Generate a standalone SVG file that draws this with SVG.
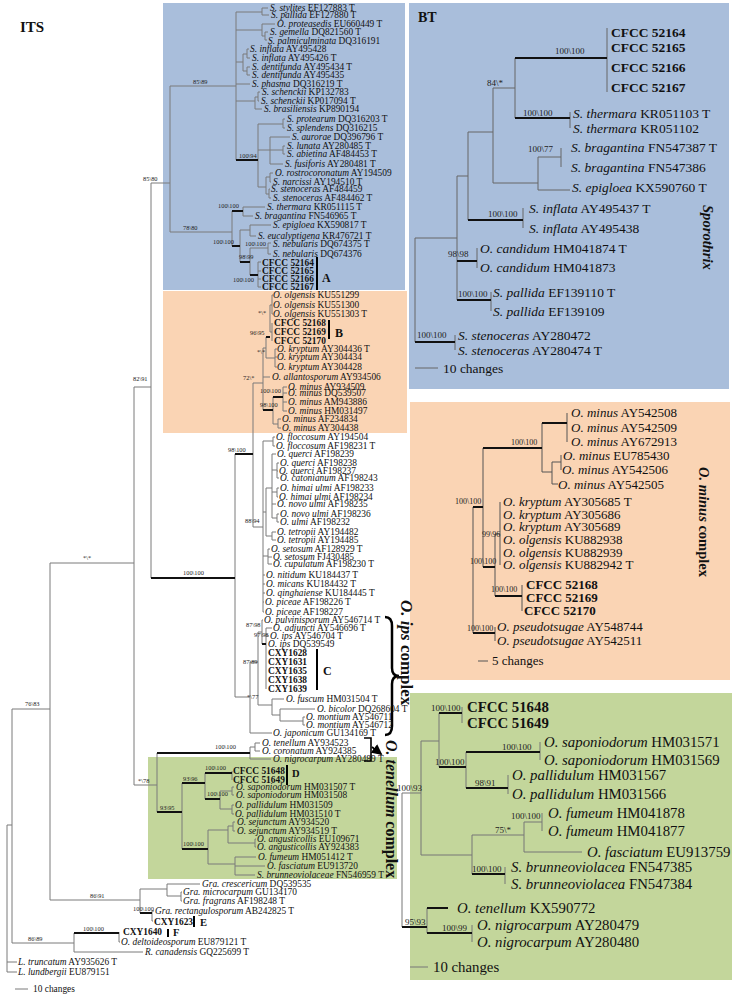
<svg xmlns="http://www.w3.org/2000/svg" width="735" height="999" viewBox="0 0 735 999">
<defs>
<style>
text{font-family:"Liberation Serif","Times New Roman",serif;fill:#111}
.its{font-size:9.4px}
.bt{font-size:13.5px}
.mn{font-size:13px}
.gr{font-size:14.8px}
.i{font-style:italic}
.b{font-weight:bold}
.s1{font-size:6.4px;fill:#222}
.s2{font-size:9px;fill:#222}
.s3{font-size:8px;fill:#222}
.thin{fill:none;stroke:#7a7a7a;stroke-width:1}
.thick{fill:none;stroke:#111;stroke-width:2}
.bar{fill:none;stroke:#000;stroke-width:2}
.lab{font-size:12px;font-weight:bold}
</style>
<marker id="ah" markerWidth="6" markerHeight="6" refX="5" refY="3" orient="auto" markerUnits="strokeWidth">
<path d="M0,0 L6,3 L0,6 Z" fill="#000"/>
</marker>
</defs>
<rect width="735" height="999" fill="#fff"/>
<g id="panels">
<rect x="163" y="3" width="242" height="287" fill="#a9bedb"/>
<rect x="163" y="291" width="244" height="142" fill="#fad4b4"/>
<rect x="148" y="757" width="249" height="122" fill="#c3d69b"/>
<rect x="409" y="3" width="320" height="386" fill="#a9bedb"/>
<rect x="410" y="402" width="320" height="278" fill="#fad4b4"/>
<rect x="410" y="693" width="322" height="287" fill="#c3d69b"/>
</g>
<g id="connectors">
<path class="thin" d="M7,825 V972 M7,825 H12 M7,962 H17 M7,972 H17
M12,709 V943 M12,709 H50 M12,943 H74
M50,563 V900 M50,563 H134 M50,900 H140
M134,387 V785 M134,387 H151 M134,785 H157
M151,183 V578 M151,183 H170
M170,86 V232 M170,86 H236 M170,232 H232
M236,12 V160 M236,12 H262 M262,8 V15 M262,8 H268 M262,15 H269
M236,30 H262 M262,24 V36 M262,24 H275 M262,36 H265 M265,32 V40 M265,32 H268 M265,40 H267
M236,62 H243 M243,54 V71 M243,54 H247 M247,49 V58 M247,49 H249 M247,58 H250 M243,71 H247 M247,67 V75 M247,67 H250 M247,75 H250
M236,84 H250
M236,101 H255 M255,97 V109 M255,97 H258 M258,92 V101 M258,92 H260 M258,101 H259 M255,109 H262
M258,124 V187 M258,124 H283 M283,119 V128 M283,119 H285 M283,128 H285
M258,150 H270 M270,137 V164 M270,137 H290 M270,150 H283 M283,146 V154 M283,146 H285 M283,154 H285 M270,164 H283
M258,187 H266 M266,177 V194 M266,177 H270 M270,173 V182 M270,173 H273 M270,182 H271 M266,194 H269 M269,189 V198 M269,189 H270 M269,198 H271
M232,211 V246 M243,207 V216 M243,207 H265 M243,216 H253
M240,230 V262 M240,230 H250 M250,225 V236 M250,225 H271 M250,236 H256
M250,248 V275 M250,248 H268 M268,243 V254 M268,243 H271 M268,254 H271
M258,262 V287 M258,262 H261 M258,271 H261 M258,279 H261 M258,287 H261
M253,383 V527 M253,383 H263
M263,348 V410 M263,348 H266 M266,337 V358
M270,305 V332 M270,305 H272 M272,295 V314 M272,295 H273 M272,314 H273
M270,332 H272 M272,323 V341
M266,358 H275 M275,349 V367 M275,349 H277 M275,357 H277 M275,367 H277
M263,377 H270
M273,397 V424 M283,387 V411 M283,387 H287 M283,393 H287 M283,402 H287 M283,411 H287
M273,424 H278 M278,419 V428 M278,419 H281 M278,428 H281
M235,454 V697
M253,527 H263 M263,441 V612 M263,441 H273 M273,437 V446 M273,437 H275 M273,446 H275
M263,512 H266 M266,488 V536 M266,488 H272 M272,454 V518 M272,454 H276 M272,470 H277 M277,463 V478 M277,463 H279 M277,471 H278 M277,478 H279 M272,492 H277 M277,488 V497 M277,488 H279 M277,497 H278 M272,504 H276 M272,518 H277 M277,514 V522 M277,514 H279 M277,522 H279
M266,536 H272 M272,532 V540 M272,532 H276 M272,540 H276
M263,556 H268 M268,549 V564 M268,549 H270 M268,557 H272 M268,564 H272
M263,575 H265 M263,584 H265 M263,593 H265 M263,602 H264 M263,612 H264
M235,697 H250 M250,662 V733 M250,662 H258 M258,632 V705 M258,632 H262 M262,620 V644 M262,620 H263
M266,628 V689 M266,628 H272 M266,636 H269
M258,705 H272 M272,699 V715 M272,699 H284 M272,715 H280 M280,709 V721 M280,709 H315 M280,721 H303 M303,717 V725 M303,717 H305 M303,725 H305
M250,733 H272
M157,753 V812 M250,747 V759 M250,747 H255 M255,743 V751 M255,743 H260 M255,751 H260 M250,759 H271
M182,783 V849 M205,773 V799 M232,771 V780
M220,791 V809 M220,791 H232 M232,787 V795 M232,787 H234 M232,795 H234 M220,809 H232 M232,805 V814 M232,805 H234 M232,814 H234
M208,830 V864 M208,830 H228 M228,826 V843 M228,826 H233 M233,822 V831 M233,822 H235 M233,831 H235 M228,843 H255 M255,839 V847 M255,839 H256 M255,847 H256
M208,864 H235 M235,857 V875 M235,857 H256 M235,866 H265 M235,875 H255
M140,889 V913 M140,889 H167 M167,884 V896 M167,884 H200 M167,896 H181 M181,892 V901 M181,892 H182 M181,901 H182
M152,911 V921 M152,911 H154 M152,921 H153
M74,933 V952 M74,952 H143 M119,932 V942 M119,942 H120
M15,989 H28"/>
<path class="thick" d="M236,160 H258 M232,211 H243 M232,246 H240 M240,262 H250 M250,275 H258
M151,578 H235 M235,454 H253 M266,337 H270 M263,410 H273 M273,397 H283 M262,644 H266
M157,753 H250 M157,812 H182 M182,783 H205 M205,773 H232 M205,799 H220 M182,849 H208
M140,913 H152 M74,933 H119"/>
<path class="bar" d="M317,257 V290 M329,320 V339 M317,649 V690 M287,765 V785 M194,916 V927 M168,929 V937"/>
<path class="thin" style="stroke:#666" d="M415,238 V342 M415,238 H457 M457,176 V300 M457,176 H468 M468,132 V220 M468,132 H493 M493,88 V183 M493,88 H515 M515,58 V118
M607,28 V92 M570,112 V128 M493,183 H538 M538,157 V190 M538,157 H561 M561,148 V167 M538,190 H570
M523,208 V228 M477,248 V268 M491,292 V311 M455,335 V350 M415,368 H438"/>
<path class="thick" d="M515,58 H607 M515,118 H570 M468,220 H523 M457,261 H477 M457,300 H491 M415,342 H455"/>
<path class="thin" style="stroke:#555" d="M473,507 V633 M483,448 V567 M542,423 V472 M567,413 V442 M542,472 H552 M552,462 V484 M552,462 H561 M561,455 V470 M552,484 H558 M495,534 V596 M495,534 H500 M500,502 V565 M522,585 V611 M495,627 V641 M478,661 H488"/>
<path class="thick" d="M473,507 H483 M483,448 H542 M542,423 H567 M483,567 H495 M495,596 H522 M473,633 H495"/>
<path class="thin" style="stroke:#777" d="M402,793 V927 M402,793 H421 M421,741 V855 M421,741 H439 M439,713 V767 M462,707 V723 M466,752 V788 M540,742 V760 M508,775 V794 M421,855 H472 M472,835 V874 M472,835 H524 M524,822 V852 M524,822 H542 M542,813 V831 M524,852 H582 M505,867 V884 M427,908 V933 M472,925 V942 M410,967 H428"/>
<path class="thick" d="M439,713 H462 M439,767 H466 M466,752 H540 M466,788 H508 M472,874 H505 M402,927 H427 M427,908 H448 M427,933 H472"/>
<path d="M385,617 Q392,617 392,626 V668 Q392,676 399,676 Q392,676 392,684 V726 Q392,735 385,735" fill="none" stroke="#000" stroke-width="2.5"/>
<path d="M364,738 H371 V761 H364" fill="none" stroke="#000" stroke-width="1.6"/>
<path d="M372,747 L381,754" fill="none" stroke="#000" stroke-width="1.8" marker-end="url(#ah)"/>
</g>
<g id="its-labels">
<text x="20" y="32" style="font-size:15px;font-weight:bold">ITS</text>
<text class="s1" x="143" y="181">85\80</text>
<text class="s1" x="193" y="84">85\89</text>
<text class="s1" x="239" y="158">100\94</text>
<text class="s1" x="183" y="230">78\80</text>
<text class="s1" x="218" y="208">100\100</text>
<text class="s1" x="213" y="244">100\100</text>
<text class="s1" x="245" y="246">100\100</text>
<text class="s1" x="239" y="259">98\99</text>
<text class="s1" x="233" y="282">100\100</text>
<text class="s1" x="258" y="315">*\*</text>
<text class="s1" x="250" y="335">96\95</text>
<text class="s1" x="257" y="354">*\*</text>
<text class="s1" x="243" y="380">72\*</text>
<text class="s1" x="260" y="393">100\100</text>
<text class="s1" x="260" y="407">98\100</text>
<text class="s1" x="228" y="452">98\100</text>
<text class="s1" x="245" y="523">88\94</text>
<text class="s1" x="183" y="575">100\100</text>
<text class="s1" x="133" y="381">82\91</text>
<text class="s1" x="83" y="560">*\*</text>
<text class="s1" x="25" y="706">76\83</text>
<text class="s1" x="246" y="627">87\98</text>
<text class="s1" x="254" y="637">97\98</text>
<text class="s1" x="243" y="664">87\89</text>
<text class="s1" x="247" y="699">*\77</text>
<text class="s1" x="215" y="749">100\100</text>
<text class="s1" x="138" y="783">*\78</text>
<text class="s1" x="160" y="810">93\95</text>
<text class="s1" x="183" y="781">93\96</text>
<text class="s1" x="205" y="770">100\100</text>
<text class="s1" x="207" y="796">100\100</text>
<text class="s1" x="183" y="846">100\100</text>
<text class="s1" x="90" y="898">86\91</text>
<text class="s1" x="133" y="911">100\100</text>
<text class="s1" x="28" y="941">86\89</text>
<text class="s1" x="83" y="931">100\100</text>
<text class="its" x="270" y="11"><tspan class="i">S. stylites</tspan> EF127883 T</text>
<text class="its" x="271" y="18"><tspan class="i">S. pallida</tspan> EF127880 T</text>
<text class="its" x="277" y="27"><tspan class="i">O. proteasedis</tspan> EU660449 T</text>
<text class="its" x="270" y="35"><tspan class="i">S. gemella</tspan> DQ821560 T</text>
<text class="its" x="268" y="44"><tspan class="i">S. palmiculminata</tspan> DQ316191</text>
<text class="its" x="250" y="52"><tspan class="i">S. inflata</tspan> AY495428</text>
<text class="its" x="252" y="61"><tspan class="i">S. inflata</tspan> AY495426 T</text>
<text class="its" x="252" y="70"><tspan class="i">S. dentifunda</tspan> AY495434 T</text>
<text class="its" x="252" y="78"><tspan class="i">S. dentifunda</tspan> AY495435</text>
<text class="its" x="252" y="87"><tspan class="i">S. phasma</tspan> DQ316219 T</text>
<text class="its" x="262" y="95"><tspan class="i">S. schenckii</tspan> KP132783</text>
<text class="its" x="261" y="104"><tspan class="i">S. schenckii</tspan> KP017094 T</text>
<text class="its" x="264" y="112"><tspan class="i">S. brasiliensis</tspan> KP890194</text>
<text class="its" x="287" y="122"><tspan class="i">S. protearum</tspan> DQ316203 T</text>
<text class="its" x="287" y="131"><tspan class="i">S. splendens</tspan> DQ316215</text>
<text class="its" x="292" y="140"><tspan class="i">S. aurorae</tspan> DQ396796 T</text>
<text class="its" x="287" y="149"><tspan class="i">S. lunata</tspan> AY280485 T</text>
<text class="its" x="287" y="157"><tspan class="i">S. abietina</tspan> AF484453 T</text>
<text class="its" x="285" y="167"><tspan class="i">S. fusiforis</tspan> AY280481 T</text>
<text class="its" x="275" y="176"><tspan class="i">O. rostrocoronatum</tspan> AY194509</text>
<text class="its" x="273" y="185"><tspan class="i">S. narcissi</tspan> AY194510 T</text>
<text class="its" x="271" y="192"><tspan class="i">S. stenoceras</tspan> AF484459</text>
<text class="its" x="273" y="201"><tspan class="i">S. stenoceras</tspan> AF484462 T</text>
<text class="its" x="267" y="210"><tspan class="i">S. thermara</tspan> KR051115 T</text>
<text class="its" x="255" y="219"><tspan class="i">S. bragantina</tspan> FN546965 T</text>
<text class="its" x="273" y="228"><tspan class="i">S. epigloea</tspan> KX590817 T</text>
<text class="its" x="258" y="239"><tspan class="i">S. eucalyptigena</tspan> KR476721 T</text>
<text class="its" x="273" y="247"><tspan class="i">S. nebularis</tspan> DQ674375 T</text>
<text class="its" x="273" y="257"><tspan class="i">S. nebularis</tspan> DQ674376</text>
<text class="its b" x="262" y="266">CFCC 52164</text>
<text class="its b" x="262" y="274">CFCC 52165</text>
<text class="its b" x="262" y="282">CFCC 52166</text>
<text class="its b" x="262" y="290">CFCC 52167</text>
<text class="its" x="273" y="298"><tspan class="i">O. olgensis</tspan> KU551299</text>
<text class="its" x="273" y="308"><tspan class="i">O. olgensis</tspan> KU551300</text>
<text class="its" x="273" y="317"><tspan class="i">O. olgensis</tspan> KU551303 T</text>
<text class="its b" x="274" y="326">CFCC 52168</text>
<text class="its b" x="274" y="335">CFCC 52169</text>
<text class="its b" x="274" y="344">CFCC 52170</text>
<text class="its" x="277" y="352"><tspan class="i">O. kryptum</tspan> AY304436 T</text>
<text class="its" x="277" y="360"><tspan class="i">O. kryptum</tspan> AY304434</text>
<text class="its" x="277" y="370"><tspan class="i">O. kryptum</tspan> AY304428</text>
<text class="its" x="272" y="380"><tspan class="i">O. allantosporum</tspan> AY934506</text>
<text class="its" x="288" y="390"><tspan class="i">O. minus</tspan> AY934509</text>
<text class="its" x="288" y="396"><tspan class="i">O. minus</tspan> DQ539507</text>
<text class="its" x="288" y="405"><tspan class="i">O. minus</tspan> AM943886</text>
<text class="its" x="288" y="414"><tspan class="i">O. minus</tspan> HM031497</text>
<text class="its" x="282" y="422"><tspan class="i">O. minus</tspan> AF234834</text>
<text class="its" x="282" y="431"><tspan class="i">O. minus</tspan> AY304438</text>
<text class="its" x="276" y="440"><tspan class="i">O. floccosum</tspan> AY194504</text>
<text class="its" x="276" y="449"><tspan class="i">O. floccosum</tspan> AF198231 T</text>
<text class="its" x="277" y="457"><tspan class="i">O. querci</tspan> AF198239</text>
<text class="its" x="280" y="466"><tspan class="i">O. querci</tspan> AF198238</text>
<text class="its" x="279" y="474"><tspan class="i">O. querci</tspan> AF198237</text>
<text class="its" x="280" y="481"><tspan class="i">O. catonianum</tspan> AF198243</text>
<text class="its" x="280" y="491"><tspan class="i">O. himai ulmi</tspan> AF198233</text>
<text class="its" x="279" y="500"><tspan class="i">O. himai ulmi</tspan> AF198234</text>
<text class="its" x="277" y="507"><tspan class="i">O. novo ulmi</tspan> AF198235</text>
<text class="its" x="280" y="517"><tspan class="i">O. novo ulmi</tspan> AF198236</text>
<text class="its" x="280" y="525"><tspan class="i">O. ulmi</tspan> AF198232</text>
<text class="its" x="277" y="535"><tspan class="i">O. tetropii</tspan> AY194482</text>
<text class="its" x="277" y="543"><tspan class="i">O. tetropii</tspan> AY194485</text>
<text class="its" x="271" y="552"><tspan class="i">O. setosum</tspan> AF128929 T</text>
<text class="its" x="273" y="560"><tspan class="i">O. setosum</tspan> FJ430485</text>
<text class="its" x="273" y="567"><tspan class="i">O. cupulatum</tspan> AF198230 T</text>
<text class="its" x="266" y="578"><tspan class="i">O. nitidum</tspan> KU184437 T</text>
<text class="its" x="266" y="587"><tspan class="i">O. micans</tspan> KU184432 T</text>
<text class="its" x="266" y="596"><tspan class="i">O. qinghaiense</tspan> KU184445 T</text>
<text class="its" x="265" y="605"><tspan class="i">O. piceae</tspan> AF198226 T</text>
<text class="its" x="265" y="615"><tspan class="i">O. piceae</tspan> AF198227</text>
<text class="its" x="264" y="623"><tspan class="i">O. pulvinisporum</tspan> AY546714 T</text>
<text class="its" x="273" y="631"><tspan class="i">O. adjuncti</tspan> AY546696 T</text>
<text class="its" x="270" y="639"><tspan class="i">O. ips</tspan> AY546704 T</text>
<text class="its" x="268" y="647"><tspan class="i">O. ips</tspan> DQ539549</text>
<text class="its b" x="268" y="656">CXY1628</text>
<text class="its b" x="268" y="665">CXY1631</text>
<text class="its b" x="268" y="674">CXY1635</text>
<text class="its b" x="268" y="683">CXY1638</text>
<text class="its b" x="268" y="692">CXY1639</text>
<text class="its" x="286" y="702"><tspan class="i">O. fuscum</tspan> HM031504 T</text>
<text class="its" x="317" y="712"><tspan class="i">O. bicolor</tspan> DQ268604 T</text>
<text class="its" x="306" y="720"><tspan class="i">O. montium</tspan> AY546711</text>
<text class="its" x="306" y="728"><tspan class="i">O. montium</tspan> AY546712</text>
<text class="its" x="273" y="736"><tspan class="i">O. japonicum</tspan> GU134169 T</text>
<text class="its" x="262" y="746"><tspan class="i">O. tenellum</tspan> AY934523</text>
<text class="its" x="262" y="754"><tspan class="i">O. coronatum</tspan> AY924385</text>
<text class="its" x="273" y="762"><tspan class="i">O. nigrocarpum</tspan> AY280489 T</text>
<text class="its b" x="233" y="774">CFCC 51648</text>
<text class="its b" x="233" y="783">CFCC 51649</text>
<text class="its" x="236" y="790"><tspan class="i">O. saponiodorum</tspan> HM031507 T</text>
<text class="its" x="236" y="798"><tspan class="i">O. saponiodorum</tspan> HM031508</text>
<text class="its" x="235" y="808"><tspan class="i">O. pallidulum</tspan> HM031509</text>
<text class="its" x="235" y="817"><tspan class="i">O. pallidulum</tspan> HM031510 T</text>
<text class="its" x="237" y="825"><tspan class="i">O. sejunctum</tspan> AY934520</text>
<text class="its" x="237" y="834"><tspan class="i">O. sejunctum</tspan> AY934519 T</text>
<text class="its" x="257" y="842"><tspan class="i">O. angusticollis</tspan> EU109671</text>
<text class="its" x="257" y="850"><tspan class="i">O. angusticollis</tspan> AY924383</text>
<text class="its" x="258" y="860"><tspan class="i">O. fumeum</tspan> HM051412 T</text>
<text class="its" x="267" y="869"><tspan class="i">O. fasciatum</tspan> EU913720</text>
<text class="its" x="257" y="878"><tspan class="i">S. brunneoviolaceae</tspan> FN546959 T</text>
<text class="its" x="202" y="887"><tspan class="i">Gra. crescericum</tspan> DQ539535</text>
<text class="its" x="183" y="895"><tspan class="i">Gra. microcarpum</tspan> GU134170</text>
<text class="its" x="183" y="904"><tspan class="i">Gra. fragrans</tspan> AF198248 T</text>
<text class="its" x="155" y="914"><tspan class="i">Gra. rectangulosporum</tspan> AB242825 T</text>
<text class="its b" x="154" y="925">CXY1623</text>
<text class="its b" x="123" y="935">CXY1640</text>
<text class="its" x="121" y="945"><tspan class="i">O. deltoideosporum</tspan> EU879121 T</text>
<text class="its" x="145" y="955"><tspan class="i">R. canadensis</tspan> GQ225699 T</text>
<text class="its" x="18" y="965"><tspan class="i">L. truncatum</tspan> AY935626 T</text>
<text class="its" x="18" y="975"><tspan class="i">L. lundbergii</tspan> EU879151</text>
<text class="its" x="33" y="992">10 changes</text>
<text class="lab" x="322" y="282">A</text>
<text class="lab" x="335" y="337">B</text>
<text class="lab" x="323" y="675">C</text>
<text class="lab" style="font-size:10.5px" x="292" y="777">D</text>
<text class="lab" style="font-size:10.5px" x="200" y="926">E</text>
<text class="lab" style="font-size:10.5px" x="173" y="936">F</text>
<text transform="translate(401,600) rotate(90)" style="font-size:17px;font-weight:bold"><tspan class="i">O. ips</tspan> complex</text>
<text transform="translate(386,740) rotate(90)" style="font-size:16px;font-weight:bold"><tspan class="i">O. tenellum</tspan> complex</text>
</g>
<g id="bt-tree">
<text x="418" y="22" style="font-size:14px;font-weight:bold">BT</text>
<text class="s2" x="555" y="54">100\100</text>
<text class="s2" x="487" y="86">84\*</text>
<text class="s2" x="523" y="116">100\100</text>
<text class="s2" x="528" y="152">100\77</text>
<text class="s2" x="488" y="217">100\100</text>
<text class="s2" x="448" y="257">98\98</text>
<text class="s2" x="458" y="297">100\100</text>
<text class="s2" x="417" y="338">100\100</text>
<text class="bt b" x="611" y="36.5">CFCC 52164</text>
<text class="bt b" x="611" y="51.5">CFCC 52165</text>
<text class="bt b" x="611" y="71.5">CFCC 52166</text>
<text class="bt b" x="611" y="91.5">CFCC 52167</text>
<text class="bt" x="573" y="117.5"><tspan class="i">S. thermara</tspan> KR051103 T</text>
<text class="bt" x="573" y="132.5"><tspan class="i">S. thermara</tspan> KR051102</text>
<text class="bt" x="571" y="151.5"><tspan class="i">S. bragantina</tspan> FN547387 T</text>
<text class="bt" x="571" y="171.5"><tspan class="i">S. bragantina</tspan> FN547386</text>
<text class="bt" x="572" y="191.5"><tspan class="i">S. epigloea</tspan> KX590760 T</text>
<text class="bt" x="529" y="212.5"><tspan class="i">S. inflata</tspan> AY495437 T</text>
<text class="bt" x="529" y="232.5"><tspan class="i">S. inflata</tspan> AY495438</text>
<text class="bt" x="480" y="252.5"><tspan class="i">O. candidum</tspan> HM041874 T</text>
<text class="bt" x="480" y="271.5"><tspan class="i">O. candidum</tspan> HM041873</text>
<text class="bt" x="493" y="296.5"><tspan class="i">S. pallida</tspan> EF139110 T</text>
<text class="bt" x="493" y="315.5"><tspan class="i">S. pallida</tspan> EF139109</text>
<text class="bt" x="458" y="339.5"><tspan class="i">S. stenoceras</tspan> AY280472</text>
<text class="bt" x="458" y="354.5"><tspan class="i">S. stenoceras</tspan> AY280474 T</text>
<text class="bt" x="443" y="372.5">10 changes</text>
<text transform="translate(703,205) rotate(90)" style="font-size:14.6px;font-weight:bold;font-style:italic">Sporothrix</text>
</g>
<g id="minus-tree">
<text class="s3" x="511" y="445">100\100</text>
<text class="s3" x="455" y="504">100\100</text>
<text class="s3" x="482" y="537">99\96</text>
<text class="s3" x="470" y="564">100\100</text>
<text class="s3" x="491" y="592">100\100</text>
<text class="s3" x="467" y="631">100\100</text>
<text class="mn" x="571" y="417"><tspan class="i">O. minus</tspan> AY542508</text>
<text class="mn" x="571" y="431.5"><tspan class="i">O. minus</tspan> AY542509</text>
<text class="mn" x="571" y="446"><tspan class="i">O. minus</tspan> AY672913</text>
<text class="mn" x="563" y="459.5"><tspan class="i">O. minus</tspan> EU785430</text>
<text class="mn" x="562" y="474"><tspan class="i">O. minus</tspan> AY542506</text>
<text class="mn" x="558" y="488.5"><tspan class="i">O. minus</tspan> AY542505</text>
<text class="mn" x="503" y="506"><tspan class="i">O. kryptum</tspan> AY305685 T</text>
<text class="mn" x="503" y="518.5"><tspan class="i">O. kryptum</tspan> AY305686</text>
<text class="mn" x="503" y="531"><tspan class="i">O. kryptum</tspan> AY305689</text>
<text class="mn" x="503" y="544"><tspan class="i">O. olgensis</tspan> KU882938</text>
<text class="mn" x="503" y="557"><tspan class="i">O. olgensis</tspan> KU882939</text>
<text class="mn" x="503" y="569"><tspan class="i">O. olgensis</tspan> KU882942 T</text>
<text class="mn b" x="526" y="589">CFCC 52168</text>
<text class="mn b" x="526" y="601.5">CFCC 52169</text>
<text class="mn b" x="524" y="615">CFCC 52170</text>
<text class="mn" x="497" y="631"><tspan class="i">O. pseudotsugae</tspan> AY548744</text>
<text class="mn" x="497" y="645"><tspan class="i">O. pseudotsugae</tspan> AY542511</text>
<text class="mn" x="492" y="665">5 changes</text>
<text transform="translate(699,467) rotate(90)" style="font-size:14.5px;font-weight:bold"><tspan class="i">O. minus</tspan> complex</text>
</g>
<g id="tenellum-tree">
<text class="s2" x="431" y="711">100\100</text>
<text class="s2" x="435" y="765">100\100</text>
<text class="s2" x="502" y="750">100\100</text>
<text class="s2" x="475" y="786">98\91</text>
<text class="s2" x="397" y="791">100\93</text>
<text class="s2" x="511" y="819">100\100</text>
<text class="s2" x="495" y="833">75\*</text>
<text class="s2" x="472" y="872">100\100</text>
<text class="s2" x="405" y="925">95\93</text>
<text class="s2" x="442" y="931">100\99</text>
<text class="gr b" x="467" y="712">CFCC 51648</text>
<text class="gr b" x="467" y="728">CFCC 51649</text>
<text class="gr" x="544" y="747"><tspan class="i">O. saponiodorum</tspan> HM031571</text>
<text class="gr" x="544" y="765"><tspan class="i">O. saponiodorum</tspan> HM031569</text>
<text class="gr" x="512" y="780"><tspan class="i">O. pallidulum</tspan> HM031567</text>
<text class="gr" x="512" y="799"><tspan class="i">O. pallidulum</tspan> HM031566</text>
<text class="gr" x="548" y="818"><tspan class="i">O. fumeum</tspan> HM041878</text>
<text class="gr" x="548" y="836"><tspan class="i">O. fumeum</tspan> HM041877</text>
<text class="gr" x="587" y="857"><tspan class="i">O. fasciatum</tspan> EU913759</text>
<text class="gr" x="511" y="872"><tspan class="i">S. brunneoviolacea</tspan> FN547385</text>
<text class="gr" x="511" y="889"><tspan class="i">S. brunneoviolacea</tspan> FN547384</text>
<text class="gr" x="457" y="913"><tspan class="i">O. tenellum</tspan> KX590772</text>
<text class="gr" x="477" y="930"><tspan class="i">O. nigrocarpum</tspan> AY280479</text>
<text class="gr" x="477" y="947"><tspan class="i">O. nigrocarpum</tspan> AY280480</text>
<text class="gr" x="433" y="972">10 changes</text>
</g>
</svg>
